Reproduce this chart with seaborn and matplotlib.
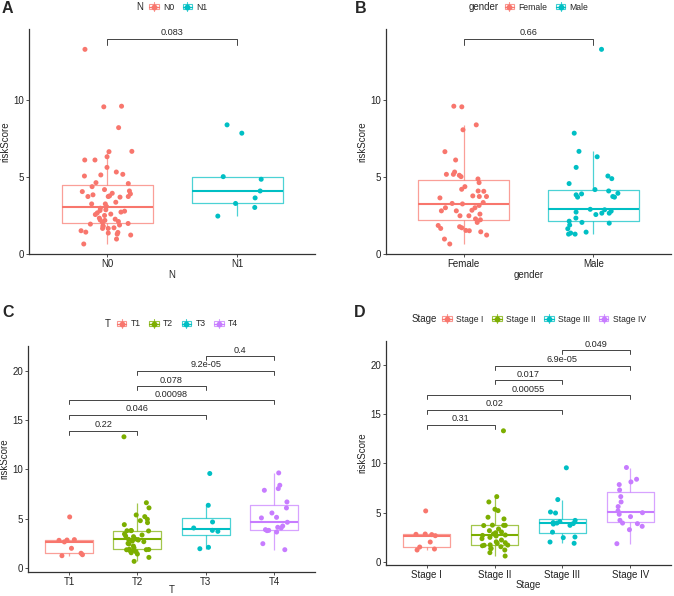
import numpy as np
import pandas as pd
import seaborn as sns
import matplotlib.pyplot as plt
from matplotlib.legend_handler import HandlerBase
from matplotlib.lines import Line2D
from matplotlib.patches import Rectangle

# ---- data ----
n_groups = ["N0", "N1"]
n0_score = [13.28, 9.59, 9.55, 8.2, 6.66, 6.64, 6.31, 6.10, 6.10, 5.62, 5.32, 5.17, 5.13,
            5.06, 4.63, 4.57, 4.37, 4.18, 4.09, 4.05, 3.94, 3.90, 3.84, 3.77, 3.73, 3.73,
            3.73, 3.69, 3.36, 3.25, 3.25, 3.08, 2.97, 2.87, 2.82, 2.78, 2.72, 2.67, 2.59,
            2.56, 2.50, 2.33, 2.26, 2.20, 2.18, 2.11, 2.05, 1.98, 1.94, 1.88, 1.83, 1.79,
            1.70, 1.66, 1.66, 1.51, 1.42, 1.40, 1.36, 1.29, 1.23, 0.97, 0.65]
n1_score = [8.38, 7.84, 5.02, 4.85, 4.09, 3.64, 3.28, 3.02, 2.46]
n_pvals = [(0, 1, 13.96, "0.083")]

gender_groups = ["Female", "Male"]
female_score = [9.59, 9.55, 8.38, 8.06, 6.64, 6.10, 5.32, 5.17, 5.17, 5.11, 5.02, 4.87, 4.63,
                4.37, 4.20, 4.09, 4.07, 3.77, 3.73, 3.73, 3.64, 3.34, 3.28, 3.25, 3.15, 3.00,
                3.00, 2.84, 2.80, 2.80, 2.59, 2.48, 2.48, 2.28, 2.22, 2.05, 1.85, 1.77, 1.70,
                1.66, 1.53, 1.51, 1.44, 1.23, 0.97, 0.65]
male_score = [13.28, 7.84, 6.66, 6.31, 5.62, 5.06, 4.89, 4.57, 4.18, 4.09, 3.94, 3.90, 3.84,
              3.73, 3.69, 3.69, 2.90, 2.87, 2.78, 2.72, 2.65, 2.65, 2.56, 2.33, 2.13, 2.05,
              2.00, 1.88, 1.64, 1.42, 1.36, 1.29, 1.29]
gender_pvals = [(0, 1, 13.96, "0.66")]

t_groups = ["T1", "T2", "T3", "T4"]
t1_score = [5.18, 2.88, 2.84, 2.81, 2.65, 2.00, 1.50, 1.35, 1.25]
t2_score = [13.30, 6.62, 6.10, 5.38, 5.21, 4.94, 4.80, 4.60, 4.40, 3.80, 3.79, 3.78, 3.76,
            3.45, 3.35, 3.25, 3.18, 2.95, 2.91, 2.88, 2.84, 2.74, 2.67, 2.50, 2.44, 2.23,
            2.05, 1.90, 1.88, 1.86, 1.85, 1.80, 1.76, 1.65, 1.55, 1.42, 1.08, 0.68]
t3_score = [9.58, 6.36, 4.67, 4.06, 3.82, 3.72, 2.10, 1.96]
t4_score = [9.64, 8.39, 8.05, 7.88, 6.70, 6.09, 5.58, 5.14, 5.08, 4.64, 4.26, 4.13, 4.06,
            3.89, 3.82, 3.79, 3.65, 2.47, 1.86]
t_pvals = [(0, 1, 13.9, "0.22"), (0, 2, 15.5, "0.046"), (0, 3, 17.0, "0.00098"),
           (1, 2, 18.4, "0.078"), (1, 3, 20.0, "9.2e-05"), (2, 3, 21.45, "0.4")]

stage_groups = ["Stage I", "Stage II", "Stage III", "Stage IV"]
stage1_score = [5.18, 2.84, 2.81, 2.78, 2.67, 2.03, 1.52, 1.32, 1.22]
stage2_score = [13.30, 6.63, 6.09, 5.35, 5.21, 4.54, 4.37, 3.74, 3.72, 3.72, 3.70, 3.35, 3.18,
                3.05, 2.97, 2.84, 2.74, 2.70, 2.64, 2.50, 2.37, 2.23, 2.05, 1.96, 1.90, 1.74,
                1.72, 1.70, 1.65, 1.55, 1.39, 1.35, 1.22, 0.95, 0.61]
stage3_score = [9.55, 6.33, 5.07, 4.97, 4.22, 4.10, 4.00, 3.95, 3.90, 3.85, 3.72, 3.03, 2.54,
                2.47, 2.03, 1.90]
stage4_score = [9.58, 8.39, 8.12, 7.85, 7.30, 6.63, 6.09, 5.62, 5.18, 5.00, 4.84, 4.60, 4.23,
                3.95, 3.89, 3.62, 3.28, 1.86]
stage_pvals = [(0, 1, 13.9, "0.31"), (0, 2, 15.4, "0.02"), (0, 3, 16.9, "0.00055"),
               (1, 2, 18.4, "0.017"), (1, 3, 19.9, "6.9e-05"), (2, 3, 21.45, "0.049")]

pal2 = ["#F8766D", "#00BFC4"]
pal4 = ["#F8766D", "#7CAE00", "#00BFC4", "#C77CFF"]

sns.set_style("ticks")
plt.rcParams["font.family"] = ["Liberation Sans", "DejaVu Sans"]
np.random.seed(7)

W, H = 674, 596
fig = plt.figure(figsize=(W / 100, H / 100), dpi=100)


def long_df(col, groups, scores):
    return pd.DataFrame({col: np.repeat(groups, [len(s) for s in scores]),
                         "riskScore": np.concatenate(scores)})


class BoxKey(HandlerBase):
    # ggplot-like boxplot legend key: box, whisker, median and a dot
    def create_artists(self, legend, orig, xd, yd, w, h, fontsize, trans):
        c = orig.get_color()
        x0, y0 = -xd, -yd
        cx, cy = x0 + w / 2, y0 + h / 2
        rect = Rectangle((x0 + 0.08 * w, y0 + 0.2 * h), 0.84 * w, 0.6 * h,
                         fill=False, edgecolor=c, lw=0.8, alpha=0.75)
        vl = Line2D([cx, cx], [y0 - 0.05 * h, y0 + 1.05 * h], color=c, lw=0.8, alpha=0.75)
        hl = Line2D([x0 + 0.08 * w, x0 + 0.92 * w], [cy, cy], color=c, lw=0.9)
        dot = Line2D([cx], [cy], marker="o", ms=3.2, color=c, lw=0)
        arts = [rect, vl, hl, dot]
        for a in arts:
            a.set_transform(trans)
        return arts


def panel(rect, col, groups, scores, pal, pvals, ylim, yticks, letter, letter_xy, leg_y,
          xlabel_top):
    left, top, right, bottom = rect
    ax = fig.add_axes([left / W, 1 - bottom / H, (right - left) / W, (bottom - top) / H])
    df = long_df(col, groups, scores)
    sns.boxplot(data=df, x=col, y="riskScore", hue=col, order=groups, hue_order=groups,
                palette=pal, fill=False, width=0.7, showfliers=False, showcaps=False,
                linewidth=0.9, legend=False, ax=ax,
                boxprops=dict(alpha=0.7), whiskerprops=dict(alpha=0.7),
                medianprops=dict(linewidth=1.5))
    sns.stripplot(data=df, x=col, y="riskScore", hue=col, order=groups, hue_order=groups,
                  palette=pal, jitter=0.2, size=3.6, legend=False, ax=ax, zorder=3)
    for i, j, y, lab in pvals:
        tip = 0.4
        ax.plot([i, i, j, j], [y - tip, y, y, y - tip], color="#444444", lw=0.7)
        ax.annotate(lab, xy=((i + j) / 2, y), xytext=(0, 1.2), textcoords="offset points",
                    ha="center", va="bottom", fontsize=6.6)
    ax.set_xlim(-0.6, len(groups) - 0.4)
    ax.set_ylim(*ylim)
    ax.set_yticks(yticks)
    ax.set_xlabel(col, fontsize=7)
    ax.xaxis.set_label_coords(0.5, -(xlabel_top - bottom) / (bottom - top))
    ax.set_ylabel("riskScore", fontsize=7)
    # right edge of the rotated y label about 19 px left of the spine
    ax.yaxis.set_label_coords(-19 / (right - left), 0.5)
    ax.tick_params(labelsize=7, length=2.2, width=0.6, pad=1.5, color="#333333",
                   labelcolor="#222222")
    sns.despine(ax=ax)
    for s in ("left", "bottom"):
        ax.spines[s].set_linewidth(0.9)
        ax.spines[s].set_color("#333333")

    fig.text(letter_xy[0] / W, 1 - letter_xy[1] / H, letter, fontsize=11.5,
             fontweight="bold", va="top", ha="left")

    handles = [Line2D([], [], color=c) for c in pal]
    leg = fig.legend(handles, groups, handler_map={Line2D: BoxKey()}, loc="center left",
                     bbox_to_anchor=(0, 1 - leg_y / H), ncol=len(groups), frameon=False,
                     fontsize=6.2, handlelength=1.3, handleheight=0.95,
                     handletextpad=0.4, columnspacing=0.9, borderpad=0, borderaxespad=0)
    title = fig.text(0, 1 - leg_y / H, col, fontsize=7, va="center", ha="left")
    fig.canvas.draw()
    r = fig.canvas.get_renderer()
    wl = leg.get_window_extent(r).width
    wt = title.get_window_extent(r).width
    gap = 5
    cx = (left + right) / 2
    x0 = cx - (wt + gap + wl) / 2
    title.set_x(x0 / W)
    leg.set_bbox_to_anchor(((x0 + wt + gap) / W, 1 - leg_y / H), transform=fig.transFigure)
    return ax


panel((29, 29, 315, 254), "N", n_groups, [n0_score, n1_score], pal2, n_pvals,
      (0, 14.6), [0, 5, 10], "A", (2, 1), 7, 270)
panel((386, 29, 671, 254), "gender", gender_groups, [female_score, male_score], pal2,
      gender_pvals, (0, 14.6), [0, 5, 10], "B", (355, 1), 7, 270)
panel((28, 346, 315, 572), "T", t_groups, [t1_score, t2_score, t3_score, t4_score], pal4,
      t_pvals, (-0.4, 22.5), [0, 5, 10, 15, 20], "C", (2, 305), 324, 585)
panel((386, 341, 671, 565), "Stage", stage_groups,
      [stage1_score, stage2_score, stage3_score, stage4_score], pal4, stage_pvals,
      (-0.3, 22.4), [0, 5, 10, 15, 20], "D", (354, 305), 319, 580)

fig.savefig("out.png", dpi=100)
